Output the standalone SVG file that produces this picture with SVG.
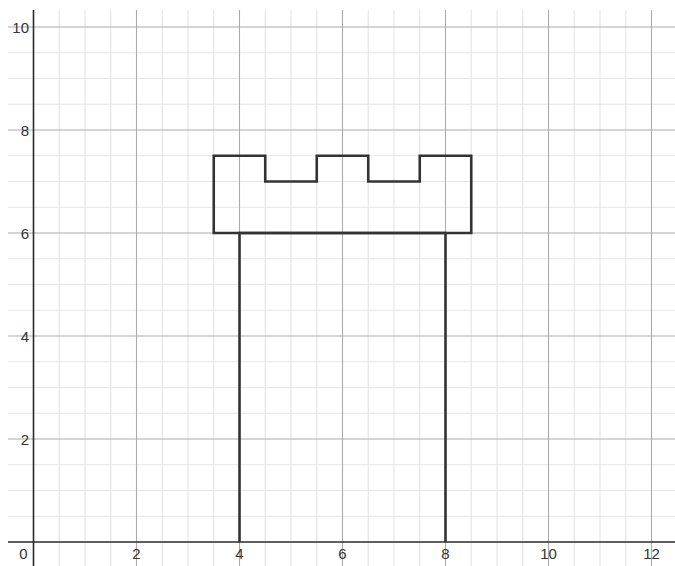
<svg xmlns="http://www.w3.org/2000/svg" width="675" height="566" viewBox="0 0 675 566">
<style>
.minor{stroke:#e6e6e6;stroke-width:1.2;fill:none}
.major{stroke:#ababab;stroke-width:1.1;fill:none}
.axis{stroke:#2b2b2b;stroke-width:1.6;fill:none}
.lbl{font-family:"Liberation Sans",Arial,sans-serif;font-size:15px;fill:#333}
.shape{stroke:#333;stroke-width:2.6;fill:none;stroke-linejoin:miter}
</style>
<rect width="675" height="566" fill="#fff"/>
<g id="grid">
<path class="minor" d="M59.25 10V566M85 10V566M110.75 10V566M162.25 10V566M188 10V566M213.75 10V566M265.25 10V566M291 10V566M316.75 10V566M368.25 10V566M394 10V566M419.75 10V566M471.25 10V566M497 10V566M522.75 10V566M574.25 10V566M600 10V566M625.75 10V566M8 516.25H675M8 490.5H675M8 464.75H675M8 413.25H675M8 387.5H675M8 361.75H675M8 310.25H675M8 284.5H675M8 258.75H675M8 207.25H675M8 181.5H675M8 155.75H675M8 104.25H675M8 78.5H675M8 52.75H675"/>
<path class="major" d="M136.5 10V566M239.5 10V566M342.5 10V566M445.5 10V566M548.5 10V566M651.5 10V566M8 439H675M8 336H675M8 233H675M8 130H675M8 27H675"/>
</g>
<g id="axes">
<path class="axis" d="M33.5 10V566M8 542H675"/>
</g>
<g id="labels" class="lbl">
<text x="29" y="32.5" text-anchor="end">10</text>
<text x="29" y="135.5" text-anchor="end">8</text>
<text x="29" y="238.5" text-anchor="end">6</text>
<text x="29" y="341.5" text-anchor="end">4</text>
<text x="29" y="444.5" text-anchor="end">2</text>
<text x="23.5" y="558.5" text-anchor="middle">0</text>
<text x="136.5" y="558.5" text-anchor="middle">2</text>
<text x="239.5" y="558.5" text-anchor="middle">4</text>
<text x="342.5" y="558.5" text-anchor="middle">6</text>
<text x="445.5" y="558.5" text-anchor="middle">8</text>
<text x="548.5" y="558.5" text-anchor="middle">10</text>
<text x="651.5" y="558.5" text-anchor="middle">12</text>
</g>
<g id="tower-top">
<path class="shape" d="M213.75 233V155.75H265.25V181.5H316.75V155.75H368.25V181.5H419.75V155.75H471.25V233Z"/>
</g>
<g id="tower-body">
<path class="shape" d="M239.5 542V233H445.5V542"/>
</g>
</svg>
